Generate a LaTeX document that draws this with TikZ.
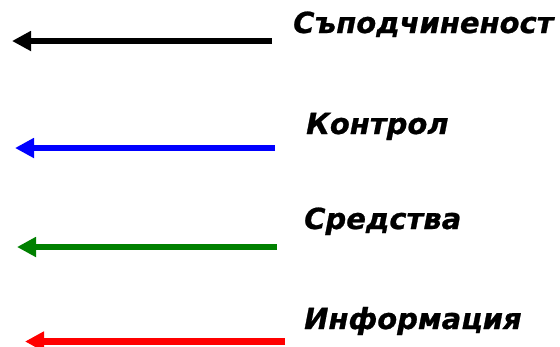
\documentclass[tikz,border=0pt]{standalone}
\usepackage{fontspec}
\setmainfont{DejaVu Sans}
\newfontfamily\legfont{DejaVu Sans}[BoldItalicFeatures={FakeBold=0.8}]
\usetikzlibrary{arrows.meta}
\definecolor{arrblue}{RGB}{0,0,255}
\definecolor{arrgreen}{RGB}{0,128,0}
\definecolor{arrred}{RGB}{255,0,0}
\tikzset{
  legarrow/.style={line width=6.5pt, -{Triangle[length=19pt,width=19pt]}},
  leglabel/.style={anchor=base west, inner sep=0pt, font=\legfont\fontsize{29}{34}\selectfont\bfseries\itshape}
}
\begin{document}
\begin{tikzpicture}[x=1pt,y=1pt]
\useasboundingbox (0,0) rectangle (560,-346);
\coordinate (s1) at (272,-41); \coordinate (e1) at (12,-41);
\coordinate (s2) at (275,-148); \coordinate (e2) at (15,-148);
\coordinate (s3) at (277,-247); \coordinate (e3) at (17,-247);
\coordinate (s4) at (285,-341.5); \coordinate (e4) at (25,-341.5);
\draw[legarrow, black] (s1) -- (e1);
\draw[legarrow, arrblue] (s2) -- (e2);
\draw[legarrow, arrgreen] (s3) -- (e3);
\draw[legarrow, arrred] (s4) -- (e4);
\node[leglabel] (t1) at (293,-33) {Съподчиненост};
\node[leglabel] (t2) at (306,-134) {Контрол};
\node[leglabel] (t3) at (304,-229) {Средства};
\node[leglabel] (t4) at (304,-329) {Информация};
\end{tikzpicture}
\end{document}
